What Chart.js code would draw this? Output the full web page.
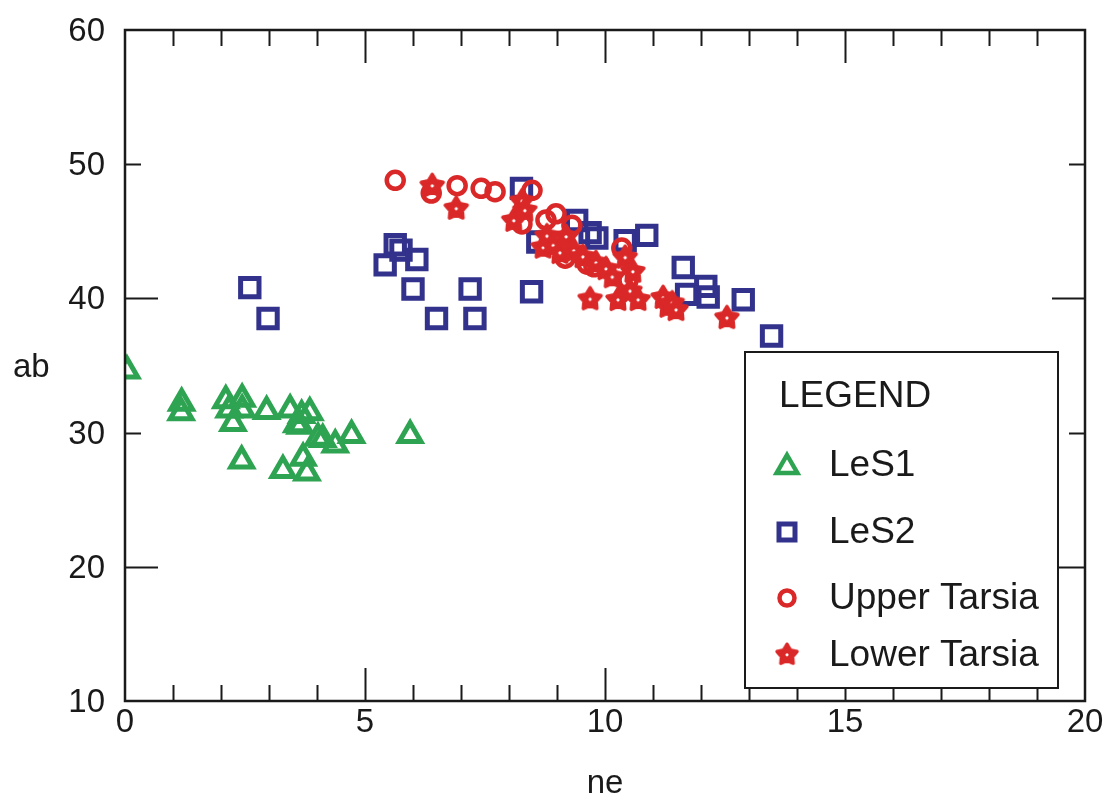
<!DOCTYPE html>
<html lang="en">
<head>
<meta charset="UTF-8">
<title>ab vs ne</title>
<style>
  html, body { margin: 0; padding: 0; background: #fff; }
  #wrap { width: 1109px; height: 805px; }
</style>
</head>
<body>
<div id="wrap"><canvas id="myChart" width="1109" height="805"></canvas></div>
<script src="https://cdn.jsdelivr.net/npm/chart.js"></script>
<script>
// ---- data ----
var les1X = [0.04, 1.18, 1.17, 2.1, 2.44, 2.17, 2.44, 2.25, 2.43, 2.95, 3.44, 3.68, 3.85, 3.58, 3.65, 4.02, 4.12, 4.38, 4.72, 5.94, 3.29, 3.71, 3.79];
var les1Y = [34.6, 32.2, 31.5, 32.4, 32.5, 31.7, 31.7, 30.7, 27.9, 31.6, 31.7, 31.3, 31.5, 30.6, 30.5, 29.6, 29.5, 29.1, 29.8, 29.8, 27.2, 28.1, 27.0];

var les2X = [2.6, 2.98, 5.42, 5.63, 5.75, 6.08, 6.0, 6.49, 7.19, 7.29, 8.47, 8.26, 8.6, 9.41, 9.69, 9.83, 10.42, 10.87, 11.63, 11.7, 12.1, 12.15, 12.88, 13.47];
var les2Y = [40.8, 38.5, 42.5, 44.0, 43.6, 42.9, 40.7, 38.5, 40.7, 38.5, 40.5, 48.2, 44.2, 45.8, 44.9, 44.5, 44.3, 44.7, 42.3, 40.3, 40.9, 40.1, 39.9, 37.2];

var upperX = [5.63, 6.38, 6.92, 7.42, 7.71, 8.48, 8.27, 8.77, 8.98, 9.31, 9.19, 9.17, 9.63, 9.77, 10.35, 10.48];
var upperY = [48.8, 47.85, 48.4, 48.2, 47.95, 48.05, 45.55, 45.85, 46.3, 45.45, 44.0, 43.0, 42.55, 42.35, 43.75, 41.35];

var lowerX = [6.4, 6.9, 8.1, 8.27, 8.33, 8.71, 8.79, 8.92, 9.06, 9.19, 9.35, 9.54, 9.81, 10.02, 10.15, 10.42, 10.58, 10.52, 9.69, 10.27, 10.69, 11.21, 11.31, 11.4, 11.48, 12.54];
var lowerY = [48.45, 46.75, 45.85, 47.3, 46.6, 43.85, 44.7, 44.0, 43.45, 44.65, 43.6, 43.15, 42.7, 42.25, 41.65, 43.1, 42.05, 40.6, 40.0, 39.95, 39.95, 40.1, 39.45, 39.7, 39.2, 38.6];

var seriesNames = ['LeS1', 'LeS2', 'Upper Tarsia', 'Lower Tarsia'];
var xMinorTicks = [1, 2, 3, 4, 5, 6, 7, 8, 9, 10, 11, 12, 13, 14, 15, 16, 17, 18, 19];
var yMinorTicks = [20, 30, 40, 50];

var green = 'rgb(46,164,82)';
var blue = 'rgb(50,50,140)';
var red = 'rgb(218,40,40)';
var fontName = '"Liberation Sans", Arial, sans-serif';

function pts(xs, ys) {
    return xs.map(function (x, i) { return { x: x, y: ys[i] }; });
}

// filled five point star with a tiny hole, as used for Lower Tarsia
function makeStar(size, color) {
    var c = document.createElement('canvas');
    c.width = size; c.height = size;
    var g = c.getContext('2d');
    var cx = size / 2, cy = size / 2 + 0.8, ro = size / 2 - 2.5, ri = ro * 0.56;
    g.beginPath();
    for (var i = 0; i < 10; i++) {
        var r = i % 2 === 0 ? ro : ri;
        var a = -Math.PI / 2 + i * Math.PI / 5;
        g.lineTo(cx + r * Math.cos(a), cy + r * Math.sin(a));
    }
    g.closePath();
    g.fillStyle = color;
    g.strokeStyle = color;
    g.lineWidth = 3.5;
    g.lineJoin = 'round';
    g.fill();
    g.stroke();
    g.beginPath();
    g.arc(cx, cy, 1.6, 0, Math.PI * 2);
    g.fillStyle = '#fff';
    g.fill();
    return c;
}
var starImg = makeStar(28, red);

// frame, inward ticks, axis titles and the boxed legend
var decorPlugin = {
    id: 'decor',
    afterDraw: function (chart) {
        var ctx = chart.ctx, a = chart.chartArea;
        var xs = chart.scales.x, ys = chart.scales.y;
        ctx.save();
        ctx.strokeStyle = '#1a1a1a';
        ctx.lineWidth = 2.5;
        ctx.strokeRect(a.left, a.top, a.right - a.left, a.bottom - a.top);

        ctx.lineWidth = 2;
        ctx.beginPath();
        xMinorTicks.forEach(function (v) {
            var px = Math.round(xs.getPixelForValue(v)) + 0.5;
            var len = v % 5 === 0 ? 33 : 16;
            ctx.moveTo(px, a.bottom); ctx.lineTo(px, a.bottom - len);
            ctx.moveTo(px, a.top); ctx.lineTo(px, a.top + len);
        });
        yMinorTicks.forEach(function (v) {
            var py = Math.round(ys.getPixelForValue(v)) + 0.5;
            var len = v % 20 === 0 ? 33 : 16;
            ctx.moveTo(a.left, py); ctx.lineTo(a.left + len, py);
            ctx.moveTo(a.right, py); ctx.lineTo(a.right - len, py);
        });
        ctx.stroke();

        // axis titles
        ctx.fillStyle = '#1a1a1a';
        ctx.font = '33px ' + fontName;
        ctx.textBaseline = 'middle';
        ctx.textAlign = 'center';
        ctx.fillText('ne', (a.left + a.right) / 2, 784);
        ctx.textAlign = 'left';
        ctx.fillText('ab', 13, 368);

        // legend box
        var bx = 745, by = 352, bw = 313, bh = 336;
        ctx.fillStyle = '#fff';
        ctx.fillRect(bx, by, bw, bh);
        ctx.lineWidth = 2;
        ctx.strokeStyle = '#1a1a1a';
        ctx.strokeRect(bx, by, bw, bh);
        ctx.fillStyle = '#1a1a1a';
        ctx.font = '37px ' + fontName;
        ctx.textAlign = 'left';
        ctx.fillText('LEGEND', 779, 397);

        var rows = [465, 532, 598, 655];
        var mx = 787;
        ctx.lineWidth = 4.5;
        // triangle
        ctx.strokeStyle = green;
        ctx.beginPath();
        var r = 12, ty = rows[0] + 2;
        ctx.moveTo(mx, ty - r);
        ctx.lineTo(mx + r * 0.866, ty + r / 2);
        ctx.lineTo(mx - r * 0.866, ty + r / 2);
        ctx.closePath();
        ctx.stroke();
        // square
        ctx.strokeStyle = blue;
        ctx.lineWidth = 5;
        ctx.strokeRect(mx - 8, rows[1] - 8, 16, 16);
        // circle
        ctx.strokeStyle = red;
        ctx.lineWidth = 4.5;
        ctx.beginPath();
        ctx.arc(mx, rows[2], 7.5, 0, Math.PI * 2);
        ctx.stroke();
        // star
        ctx.drawImage(starImg, mx - 13, rows[3] - 14, 26, 26);

        ctx.fillStyle = '#1a1a1a';
        seriesNames.forEach(function (name, i) {
            ctx.fillText(name, 829, rows[i] + 1);
        });
        ctx.restore();
    }
};

var chart = new Chart(document.getElementById('myChart').getContext('2d'), {
    type: 'scatter',
    data: {
        datasets: [
            {
                label: seriesNames[0], data: pts(les1X, les1Y), order: 4,
                pointStyle: 'triangle', radius: 12.5, borderWidth: 5,
                borderColor: green, backgroundColor: 'rgba(0,0,0,0)'
            },
            {
                label: seriesNames[1], data: pts(les2X, les2Y), order: 3,
                pointStyle: 'rect', radius: 13, borderWidth: 5,
                borderColor: blue, backgroundColor: 'rgba(0,0,0,0)'
            },
            {
                label: seriesNames[2], data: pts(upperX, upperY), order: 2,
                pointStyle: 'circle', radius: 8.5, borderWidth: 4.5,
                borderColor: red, backgroundColor: 'rgba(0,0,0,0)'
            },
            {
                label: seriesNames[3], data: pts(lowerX, lowerY), order: 1,
                pointStyle: starImg, radius: 14,
                borderColor: red, backgroundColor: red
            }
        ]
    },
    options: {
        responsive: false,
        animation: false,
        devicePixelRatio: 1,
        layout: { padding: { top: 30, right: 24, left: 0, bottom: 0 } },
        plugins: {
            legend: { display: false },
            tooltip: { enabled: false }
        },
        scales: {
            x: {
                type: 'linear', min: 0, max: 20,
                grid: { display: false, drawTicks: false },
                border: { display: false },
                ticks: { stepSize: 5, padding: 2, color: '#1a1a1a', font: { size: 33, family: fontName } },
                afterFit: function (s) { s.height = 104; s.paddingLeft = 0; s.paddingRight = 0; }
            },
            y: {
                type: 'linear', min: 10, max: 60,
                grid: { display: false, drawTicks: false },
                border: { display: false },
                ticks: { stepSize: 10, padding: 20, labelOffset: 2, color: '#1a1a1a', font: { size: 33, family: fontName } },
                afterFit: function (s) { s.width = 125; s.paddingTop = 0; s.paddingBottom = 0; }
            }
        }
    },
    plugins: [decorPlugin]
});
</script>
</body>
</html>
